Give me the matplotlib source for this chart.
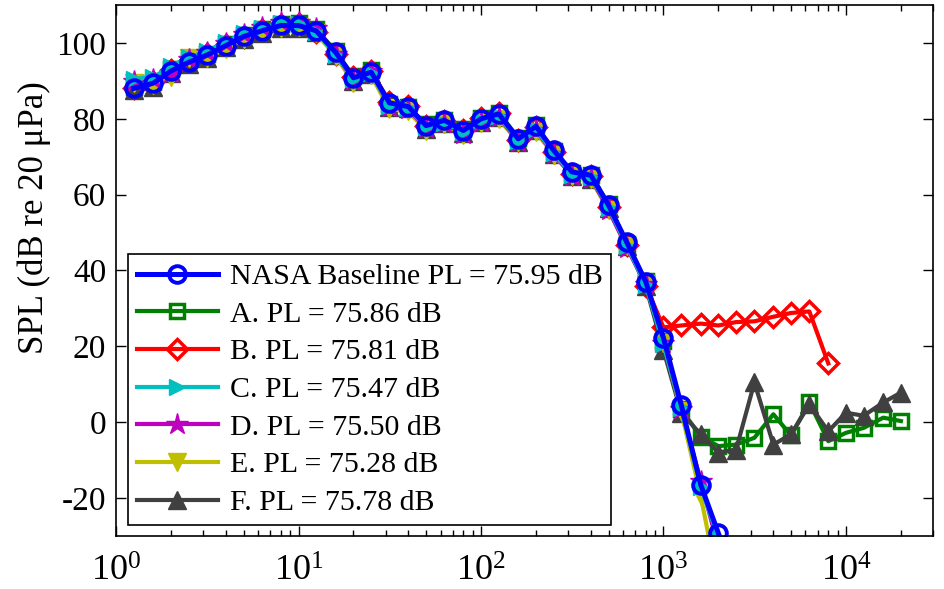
import matplotlib.pyplot as plt

plt.rcParams["font.family"] = ["Liberation Serif", "DejaVu Serif"]
plt.rcParams["mathtext.fontset"] = "custom"
plt.rcParams["mathtext.rm"] = "Liberation Serif"
plt.rcParams["axes.unicode_minus"] = False

# 1/3 octave band centre frequencies (Hz)
freq = [1.25, 1.6, 2, 2.5, 3.15, 4, 5, 6.3, 8, 10, 12.5, 16, 20, 25, 31.5,
        40, 50, 63, 80, 100, 125, 160, 200, 250, 315, 400, 500, 630, 800,
        1000, 1250, 1600, 2000, 2500, 3150, 4000, 5000, 6300, 8000,
        10000, 12500, 16000, 20000]

spl_base = [88.0, 89.4, 92.6, 94.9, 96.8, 99.3, 101.7, 103.2, 104.6, 104.6,
            103.2, 97.5, 90.8, 92.3, 84.2, 83.2, 78.2, 79.6, 76.9, 80.0,
            81.3, 74.7, 78.0, 71.7, 66.0, 65.1, 57.2, 47.4, 37.0, 22.2,
            4.6, -16.5, -29.3]

spl_a = [88.5, 89.8, 93.0, 95.5, 97.2, 99.8, 102.0, 103.8, 105.0, 105.2,
         103.6, 97.8, 91.2, 92.8, 84.0, 83.0, 78.5, 79.8, 77.2, 80.3,
         81.6, 75.0, 78.3, 71.5, 65.8, 65.3, 57.5, 47.0, 37.2, 21.5,
         3.4, -3.8, -6.3, -5.9, -4.1, 2.1, -3.5, 5.2, -5.0, -2.8,
         -1.5, 1.2, 0.3]

spl_b = [88.2, 89.6, 92.8, 95.2, 97.0, 99.5, 101.5, 103.5, 104.8, 104.9,
         103.0, 97.2, 91.0, 92.5, 84.5, 83.5, 78.0, 79.3, 77.0, 80.2,
         81.5, 74.5, 77.8, 71.2, 65.5, 64.8, 56.8, 46.8, 36.0, 25.0,
         25.5, 26.0, 25.5, 26.4, 26.6, 27.8, 28.8, 29.2, 15.5]

spl_c = [90.5, 91.0, 93.8, 96.2, 97.8, 100.3, 102.5, 104.0, 105.3, 105.0,
         103.0, 96.8, 90.5, 92.0, 83.5, 82.8, 77.8, 79.0, 76.5, 79.6,
         80.8, 74.2, 77.3, 71.0, 65.3, 64.7, 56.6, 46.5, 36.2, 20.5,
         3.8, -17.0, -30.5]

spl_d = [90.0, 90.5, 92.0, 95.8, 97.5, 100.0, 102.3, 104.2, 105.5, 105.6,
         104.0, 97.0, 90.2, 92.6, 83.0, 82.5, 77.5, 78.8, 76.0, 79.2,
         80.5, 74.0, 77.0, 70.8, 65.0, 64.5, 56.0, 46.0, 36.5, 21.0,
         3.5, -15.5, -33.0]

spl_e = [89.5, 89.0, 91.0, 96.0, 96.0, 98.5, 101.0, 102.8, 104.0, 104.2,
         102.5, 96.5, 89.5, 91.5, 82.5, 82.0, 76.8, 78.5, 75.8, 79.0,
         80.0, 73.8, 76.5, 70.5, 65.0, 64.0, 56.0, 46.5, 36.5, 21.0,
         3.0, -19.5, -43.0]

spl_f = [87.5, 88.5, 92.0, 94.5, 96.0, 98.8, 101.0, 102.5, 104.0, 104.0,
         102.8, 96.8, 90.0, 91.8, 83.0, 82.8, 77.2, 78.8, 76.2, 79.2,
         80.6, 74.0, 77.0, 70.8, 65.0, 64.0, 56.5, 46.5, 35.8, 19.0,
         2.5, -3.2, -8.0, -7.2, 10.5, -5.9, -3.2, 4.7, -2.4, 2.5,
         1.7, 5.2, 7.8]

labels = ["NASA Baseline PL = 75.95 dB", "A. PL = 75.86 dB", "B. PL = 75.81 dB",
          "C. PL = 75.47 dB", "D. PL = 75.50 dB", "E. PL = 75.28 dB",
          "F. PL = 75.78 dB"]

fig = plt.figure(figsize=(9.44, 5.89), dpi=100)
ax = fig.add_axes([0.1229, 0.0900, 0.8655, 0.9015])

lw = 3.0
h_a, = ax.plot(freq[:len(spl_a)], spl_a, "-s", color=(0, 0.5, 0), lw=lw,
               ms=10, mfc="none", mew=2.5)
h_b, = ax.plot(freq[:len(spl_b)], spl_b, "-D", color=(1, 0, 0), lw=lw,
               ms=10, mfc="none", mew=2.5)
h_f, = ax.plot(freq[:len(spl_f)], spl_f, "-^", color=(0.25, 0.25, 0.25), lw=lw,
               ms=13)
h_e, = ax.plot(freq[:len(spl_e)], spl_e, "-v", color=(0.75, 0.75, 0), lw=lw,
               ms=13)
h_d, = ax.plot(freq[:len(spl_d)], spl_d, "-*", color=(0.75, 0, 0.75), lw=lw,
               ms=16)
h_c, = ax.plot(freq[:len(spl_c)], spl_c, "->", color=(0, 0.75, 0.75), lw=lw,
               ms=12)
h_base, = ax.plot(freq[:len(spl_base)], spl_base, "-o", color=(0, 0, 1),
                  lw=3.6, ms=12, mfc="none", mew=2.8)

ax.set_xscale("log")
ax.set_xlim(1, 3e4)
ax.set_ylim(-30, 110)
ax.set_yticks([-20, 0, 20, 40, 60, 80, 100])

ax.tick_params(which="both", direction="in", top=True, right=True,
               labelsize=24, width=1)
ax.tick_params(which="major", length=7, pad=7)
ax.tick_params(which="minor", length=4)
ax.tick_params(axis="x", which="major", labelsize=26, pad=14)
for s in ax.spines.values():
    s.set_linewidth(1.2)

ax.set_ylabel("SPL (dB re 20 μPa)", fontsize=25)
ax.yaxis.set_label_coords(-0.08, 0.60)

leg = ax.legend([h_base, h_a, h_b, h_c, h_d, h_e, h_f], labels,
                loc="lower left", bbox_to_anchor=(0.0147, 0.0207),
                borderaxespad=0, fontsize=21.5, frameon=True, fancybox=False,
                edgecolor="black", framealpha=1, handlelength=2.7,
                handletextpad=0.4, labelspacing=0.36, borderpad=0.3)
leg.get_frame().set_linewidth(1.2)

fig.savefig("out.png", dpi=100)
